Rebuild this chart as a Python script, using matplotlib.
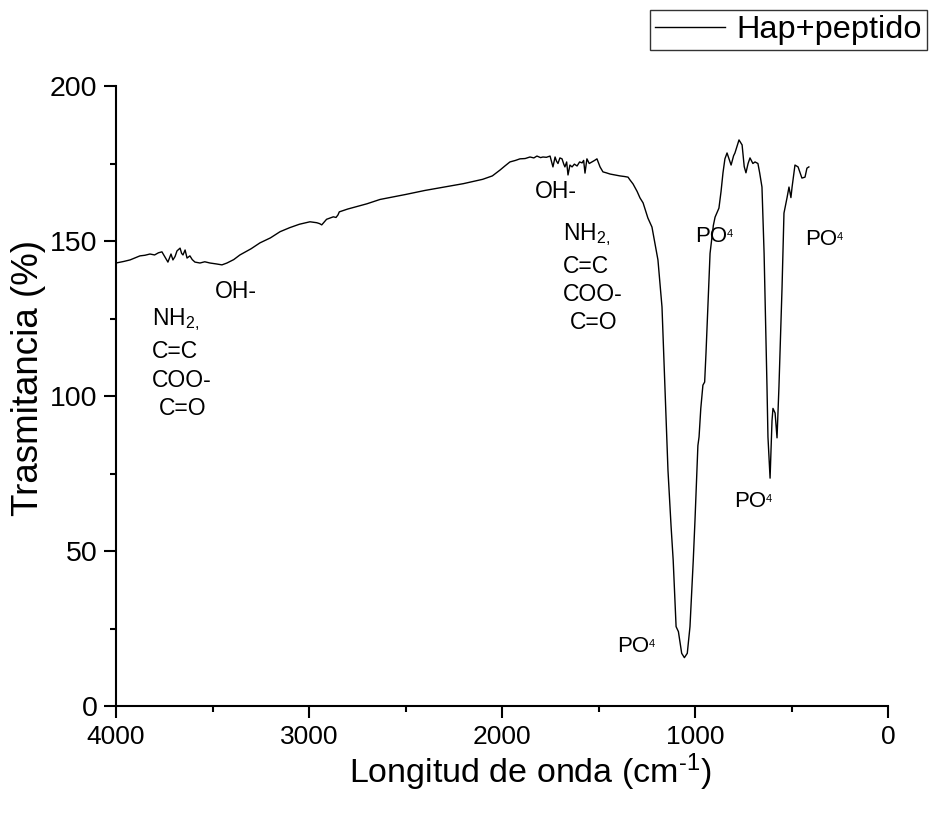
import numpy as np
import matplotlib
matplotlib.use("Agg")
import matplotlib.pyplot as plt
from matplotlib.ticker import MultipleLocator

# FTIR spectrum (wavenumber cm-1, transmittance %)
wavenumber = [
    4000, 3960, 3927, 3900, 3876, 3850, 3824, 3800, 3780, 3762, 3746, 3731,
    3715, 3705, 3694, 3684, 3668, 3660, 3653, 3642, 3632, 3617, 3605, 3591,
    3565, 3540, 3513, 3480, 3451, 3425, 3390, 3358, 3300, 3254, 3200, 3150,
    3100, 3050, 2995, 2960, 2945, 2934, 2920, 2909, 2874, 2860, 2850, 2843,
    2800, 2700, 2632, 2500, 2400, 2300, 2200, 2100, 2050, 2010, 1985, 1959,
    1930, 1907, 1880, 1855, 1835, 1819, 1800, 1788, 1770, 1751, 1736, 1725,
    1718, 1710, 1700, 1689, 1680, 1674, 1665, 1658, 1648, 1637, 1625, 1611,
    1598, 1585, 1577, 1570, 1560, 1548, 1534, 1520, 1508, 1500, 1492, 1477,
    1460, 1440, 1415, 1389, 1365, 1347, 1337, 1321, 1300, 1285, 1269, 1244,
    1223, 1192, 1171, 1156, 1140, 1124, 1113, 1098, 1086, 1069, 1055, 1040,
    1026, 1009, 1000, 985, 979, 970, 959, 950, 943, 922, 905, 896,
    876, 865, 855, 845, 834, 813, 800, 793, 772, 756, 745, 736,
    725, 715, 700, 689, 674, 665, 653, 642, 627, 622, 611, 601,
    596, 585, 575, 565, 549, 539, 523, 513, 503, 497, 482, 466,
    446, 430, 420, 410,
]
transmittance = [
    142.9, 143.4, 143.9, 144.6, 145.2, 145.4, 145.8, 145.5, 146.2, 146.5, 144.8, 143.2,
    145.8, 143.9, 145.0, 146.8, 147.7, 146.0, 145.5, 147.1, 144.5, 145.2, 144.0, 143.2,
    142.9, 143.3, 142.9, 142.6, 142.3, 142.9, 144.0, 145.5, 147.5, 149.4, 151.0, 153.0,
    154.3, 155.4, 156.2, 155.9, 155.6, 155.2, 156.2, 157.0, 157.8, 157.6, 158.4, 159.4,
    160.3, 162.0, 163.4, 165.0, 166.3, 167.4, 168.5, 169.9, 171.0, 172.9, 174.2, 175.5,
    176.0, 176.5, 176.6, 177.1, 176.8, 177.4, 176.9, 177.1, 177.0, 177.4, 173.9, 177.1,
    175.8, 175.0, 176.8, 176.5, 174.8, 173.9, 175.5, 171.3, 174.5, 173.9, 174.8, 174.2,
    175.5, 175.2, 176.0, 171.9, 176.5, 175.0, 175.5, 176.0, 176.5, 175.2, 173.9, 172.3,
    172.0, 171.6, 171.3, 171.0, 170.8, 170.6, 169.7, 168.4, 166.0, 163.9, 162.3, 157.4,
    154.5, 143.9, 128.7, 103.0, 76.0, 58.0, 47.0, 25.6, 24.0, 17.0, 15.6, 17.0,
    25.6, 47.0, 60.0, 84.0, 86.8, 96.0, 103.5, 104.5, 113.9, 146.0, 155.0, 157.7,
    160.6, 166.0, 172.0, 176.5, 178.4, 174.5, 177.5, 178.4, 182.6, 181.0, 174.0, 172.0,
    175.0, 176.8, 175.0, 175.5, 175.0, 172.0, 167.4, 146.0, 103.0, 86.8, 73.5, 92.0,
    96.0, 94.5, 86.5, 103.0, 135.0, 159.0, 164.0, 167.4, 164.0, 167.4, 174.5, 173.9,
    170.3, 170.6, 173.5, 173.9,
]

# band assignments: (text, wavenumber, transmittance) at text baseline / left edge
labels = [
    ("NH$_{\\mathrm{2,}}$", 3813, 122.9),
    ("C=C", 3813, 112.3),
    ("COO-", 3813, 102.9),
    ("C=O", 3777, 93.9),
    ("OH-", 3487, 131.6),
    ("OH-", 1829, 164.0),
    ("NH$_{\\mathrm{2,}}$", 1684, 150.3),
    ("C=C", 1684, 139.8),
    ("COO-", 1684, 130.6),
    ("C=O", 1648, 121.5),
]
# phosphate bands, "PO" with a small raised "4"
po4_x = [1404, 1000, 798, 430]
po4_y = [17.4, 149.8, 64.3, 148.7]

plt.rcParams["font.family"] = ["Liberation Sans", "DejaVu Sans"]
plt.rcParams["mathtext.fontset"] = "custom"
plt.rcParams["mathtext.rm"] = "Liberation Sans"
plt.rcParams["mathtext.it"] = "Liberation Sans:italic"
plt.rcParams["mathtext.bf"] = "Liberation Sans:bold"

fig = plt.figure(figsize=(9.3, 8.14), dpi=100)
ax = fig.add_axes([116 / 930, 1 - 706 / 814, 772 / 930, 620 / 814])

ax.plot(wavenumber, transmittance, color="black", linewidth=1.0, label="Hap+peptido")

for text, x, y in labels:
    ax.text(x, y, text, fontsize=16.5, ha="left", va="baseline")

for x, y in zip(po4_x, po4_y):
    t = ax.text(x, y, "PO", fontsize=16, ha="left", va="baseline")
    ax.annotate("4", xy=(1.0, 0.6), xycoords=t, fontsize=8,
                ha="left", va="center")

ax.set_xlim(4000, 0)
ax.set_ylim(0, 200)
ax.xaxis.set_major_locator(MultipleLocator(1000))
ax.xaxis.set_minor_locator(MultipleLocator(500))
ax.yaxis.set_major_locator(MultipleLocator(50))
ax.yaxis.set_minor_locator(MultipleLocator(25))

for side in ["top", "right"]:
    ax.spines[side].set_visible(False)
for side in ["left", "bottom"]:
    ax.spines[side].set_linewidth(1.5)

ax.tick_params(which="major", length=8.5, width=1.5, pad=5)
ax.tick_params(which="minor", length=4.5, width=1.5)
ax.tick_params(axis="x", labelsize=19)
ax.tick_params(axis="y", labelsize=20.5)

ax.set_xlabel("Longitud de onda (cm$^{\u2010\\mathrm{1}}$)", fontsize=24.5)
ax.xaxis.set_label_coords(0.536, -0.074)
ax.set_ylabel("Trasmitancia (%)", fontsize=26.5)
ax.yaxis.set_label_coords(-0.091, 0.529)

leg = ax.legend(loc="upper right", bbox_to_anchor=(927 / 930, 1 - 10 / 814),
                bbox_transform=fig.transFigure, fontsize=23.4, frameon=True,
                fancybox=False, handlelength=2.15, handletextpad=0.36,
                borderpad=0.15, borderaxespad=0)
leg.get_frame().set_edgecolor("black")
leg.get_frame().set_linewidth(1.0)

fig.savefig("out.png", dpi=100)
